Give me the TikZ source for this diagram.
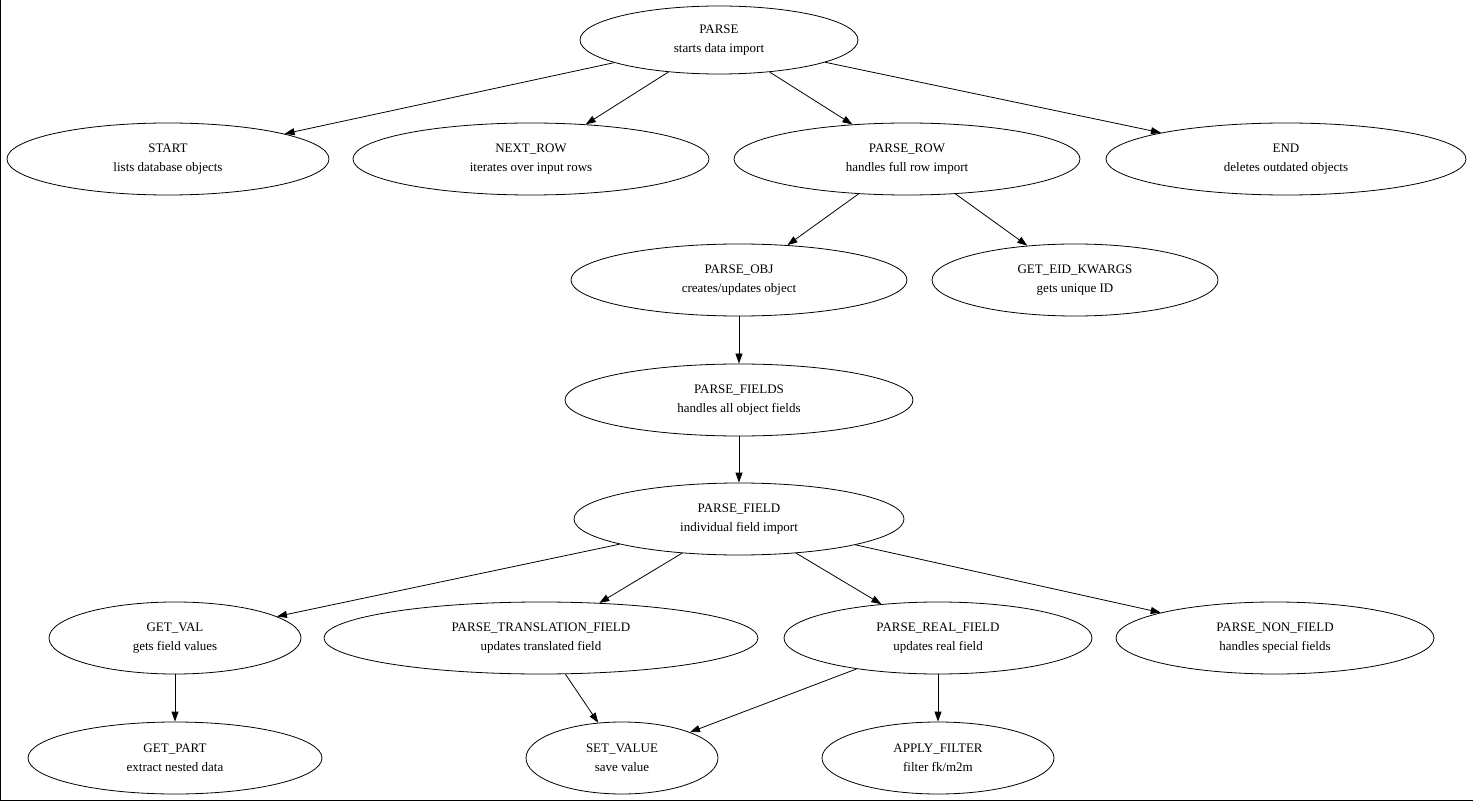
\documentclass[tikz,border=0pt]{standalone}
\usepackage{fontspec}
\setmainfont{Liberation Serif}
\usetikzlibrary{shapes.geometric,arrows.meta}
\begin{document}
\begin{tikzpicture}[x=1pt,y=-1pt,
  e/.style={ellipse,draw,line width=0.8pt,inner sep=0pt,minimum height=72pt,align=center,font=\fontsize{13}{19}\selectfont},
  a/.style={-{Triangle[length=10pt,width=7pt]},line width=0.8pt}]
\useasboundingbox (0,0) rectangle (1473,802);
\draw[line width=1pt] (0.5,0) -- (0.5,800.5) -- (1473,800.5);
\node[e,minimum width=278pt,minimum height=68pt] (parse) at (719,40) {PARSE\\starts data import};
\node[e,minimum width=322pt] (start) at (168,159) {START\\lists database objects};
\node[e,minimum width=356pt] (next) at (531,159) {NEXT\_ROW\\iterates over input rows};
\node[e,minimum width=346pt] (prow) at (907,159) {PARSE\_ROW\\handles full row import};
\node[e,minimum width=360pt] (end) at (1286,159) {END\\deletes outdated objects};
\node[e,minimum width=336pt] (pobj) at (739,280) {PARSE\_OBJ\\creates/updates object};
\node[e,minimum width=286pt] (eid) at (1075,280) {GET\_EID\_KWARGS\\gets unique ID};
\node[e,minimum width=348pt] (pfields) at (739,400) {PARSE\_FIELDS\\handles all object fields};
\node[e,minimum width=330pt] (pfield) at (739,519) {PARSE\_FIELD\\individual field import};
\node[e,minimum width=252pt] (gval) at (175,638) {GET\_VAL\\gets field values};
\node[e,minimum width=434pt] (ptrans) at (541,638) {PARSE\_TRANSLATION\_FIELD\\updates translated field};
\node[e,minimum width=308pt] (preal) at (938,638) {PARSE\_REAL\_FIELD\\updates real field};
\node[e,minimum width=318pt] (pnon) at (1275,638) {PARSE\_NON\_FIELD\\handles special fields};
\node[e,minimum width=294pt] (gpart) at (175,758) {GET\_PART\\extract nested data};
\node[e,minimum width=192pt] (setv) at (622,758) {SET\_VALUE\\save value};
\node[e,minimum width=232pt] (filt) at (938,758) {APPLY\_FILTER\\filter fk/m2m};
\draw[a] (parse) -- (start);
\draw[a] (parse) -- (next);
\draw[a] (parse) -- (prow);
\draw[a] (parse) -- (end);
\draw[a] (prow) -- (pobj);
\draw[a] (prow) -- (eid);
\draw[a] (pobj) -- (pfields);
\draw[a] (pfields) -- (pfield);
\draw[a] (pfield) -- (gval);
\draw[a] (pfield) -- (ptrans);
\draw[a] (pfield) -- (preal);
\draw[a] (pfield) -- (pnon);
\draw[a] (gval) -- (gpart);
\draw[a] (ptrans) -- (setv);
\draw[a] (preal) -- (setv);
\draw[a] (preal) -- (filt);
\end{tikzpicture}
\end{document}
